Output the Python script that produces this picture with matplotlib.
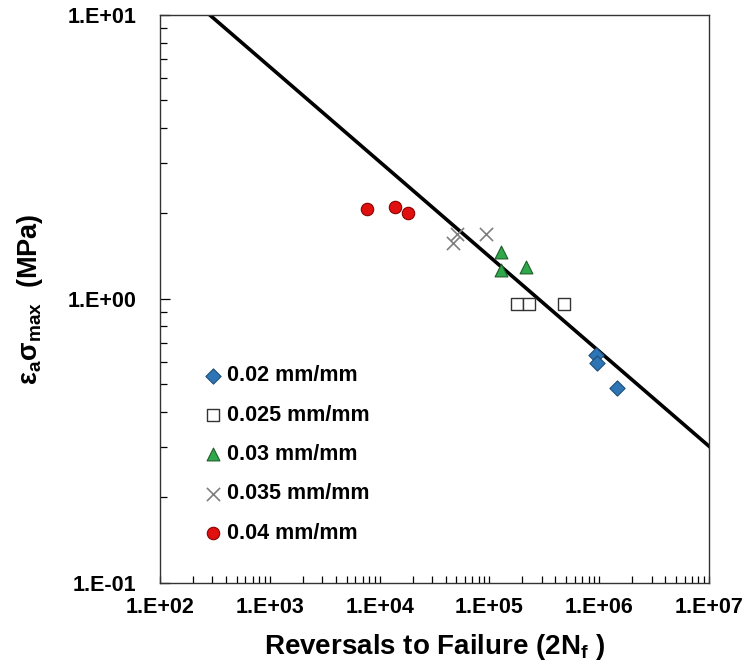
import numpy as np
import matplotlib
matplotlib.use("Agg")
import matplotlib.pyplot as plt
from matplotlib.ticker import LogLocator, FixedLocator, NullFormatter

plt.rcParams['font.family'] = ['Liberation Sans', 'DejaVu Sans']
plt.rcParams['font.weight'] = 'bold'
plt.rcParams['mathtext.fontset'] = 'custom'
plt.rcParams['mathtext.rm'] = 'Liberation Sans:bold'
plt.rcParams['mathtext.it'] = 'Liberation Sans:bold'
plt.rcParams['mathtext.bf'] = 'Liberation Sans:bold'

# Data
labels = ['0.02 mm/mm', '0.025 mm/mm', '0.03 mm/mm', '0.035 mm/mm', '0.04 mm/mm']
x_002 = [9.35e5, 9.5e5, 1.46e6]
y_002 = [0.635, 0.594, 0.485]
x_0025 = [1.77e5, 2.31e5, 4.78e5]
y_0025 = [0.96, 0.96, 0.96]
x_003 = [1.27e5, 1.27e5, 2.14e5]
y_003 = [1.46, 1.26, 1.30]
x_0035 = [4.69e4, 5.04e4, 9.25e4]
y_0035 = [1.57, 1.70, 1.70]
x_004 = [7.63e3, 1.38e4, 1.82e4]
y_004 = [2.07, 2.10, 2.00]

# Fit line y = A * x^b
fit_A = 66.0
fit_b = -0.334
fit_x = [285.0, 1.0e7]

xticks = [1e2, 1e3, 1e4, 1e5, 1e6, 1e7]
xticklabels = ['1.E+02', '1.E+03', '1.E+04', '1.E+05', '1.E+06', '1.E+07']
yticks = [1e-1, 1e0, 1e1]
yticklabels = ['1.E-01', '1.E+00', '1.E+01']

fig = plt.figure(figsize=(7.5, 6.69), dpi=100)
ax = fig.add_axes([0.2133, 0.1286, 0.732, 0.849])
ax.set_xscale('log')
ax.set_yscale('log')

fx = np.array(fit_x)
ax.plot(fx, fit_A * fx ** fit_b, color='black', lw=2.6, zorder=2)

ax.scatter(x_002, y_002, marker='D', s=60, facecolor='#2E75B6', edgecolor='#1F4E79', lw=0.8, label=labels[0], zorder=3)
ax.scatter(x_0025, y_0025, marker='s', s=80, facecolor='white', edgecolor='#333333', lw=1.0, label=labels[1], zorder=3)
ax.scatter(x_003, y_003, marker='^', s=85, facecolor='#2EA84A', edgecolor='#1E5E2A', lw=0.8, label=labels[2], zorder=3)
ax.scatter(x_0035, y_0035, marker='x', s=90, color='#7F7F7F', lw=1.2, label=labels[3], zorder=3)
ax.scatter(x_004, y_004, marker='o', s=80, facecolor='#E01010', edgecolor='#8B0000', lw=0.8, label=labels[4], zorder=3)

ax.set_xlim(1e2, 1e7)
ax.set_ylim(1e-1, 1e1)

ax.xaxis.set_major_locator(FixedLocator(xticks))
ax.set_xticklabels(xticklabels)
ax.yaxis.set_major_locator(FixedLocator(yticks))
ax.set_yticklabels(yticklabels)
ax.xaxis.set_minor_locator(LogLocator(base=10, subs=np.arange(2, 10)))
ax.yaxis.set_minor_locator(LogLocator(base=10, subs=np.arange(2, 10)))
ax.xaxis.set_minor_formatter(NullFormatter())
ax.yaxis.set_minor_formatter(NullFormatter())

ax.tick_params(axis='x', which='both', direction='in', length=5, width=0.9, labelsize=15.5, pad=10)
ax.tick_params(axis='y', which='major', direction='in', length=7, width=0.9, labelsize=15.5, pad=17)
ax.tick_params(axis='y', which='minor', direction='in', length=5, width=0.9)
for t in ax.get_xticklabels() + ax.get_yticklabels():
    t.set_fontweight('bold')
for s in ax.spines.values():
    s.set_linewidth(1.0)
    s.set_color('#333333')

ax.set_xlabel('Reversals to Failure (2N$_\\mathregular{f}$ )', fontsize=20, fontweight='bold', labelpad=10)
ax.set_ylabel('ε$_\\mathregular{a}$σ$_\\mathregular{max}$  (MPa)', fontsize=19.5, fontweight='bold', labelpad=16)

leg = ax.legend(loc='upper left', bbox_to_anchor=(0.035, 0.417), frameon=False,
                prop={'size': 15.5, 'weight': 'bold'}, labelspacing=0.85,
                handletextpad=0.0, handlelength=1.3, scatterpoints=1)

fig.savefig('out.png', dpi=100)
